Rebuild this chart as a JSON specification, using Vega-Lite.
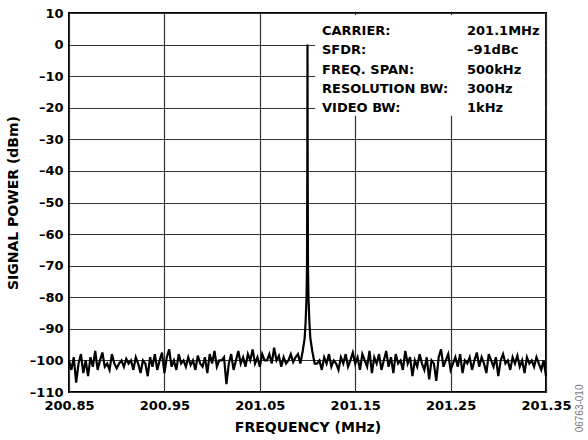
{
  "$schema": "https://vega.github.io/schema/vega-lite/v6.json",
  "autosize": {"type": "none"},
  "width": 477,
  "height": 379,
  "padding": {"left": 69, "top": 13, "right": 42, "bottom": 48},
  "background": "white",
  "config": {
    "view": {"stroke": "#000", "strokeWidth": 2},
    "font": "DejaVu Sans",
    "axis": {
      "labelFont": "DejaVu Sans", "labelFontWeight": "bold", "labelFontSize": 13, "labelColor": "#000",
      "titleFont": "DejaVu Sans", "titleFontWeight": "bold", "titleFontSize": 14, "titleColor": "#000",
      "domain": false, "ticks": false, "grid": true, "gridColor": "#333", "gridWidth": 1.2, "gridOpacity": 1,
      "labelOverlap": false
    }
  },
  "datasets": {
    "trace": [
      {"f": 200.85, "p": -100}, {"f": 200.8525, "p": -103}, {"f": 200.855, "p": -99}, {"f": 200.8575, "p": -107},
      {"f": 200.86, "p": -101}, {"f": 200.8625, "p": -98}, {"f": 200.865, "p": -104}, {"f": 200.8675, "p": -100},
      {"f": 200.87, "p": -105}, {"f": 200.8725, "p": -99}, {"f": 200.875, "p": -102}, {"f": 200.8775, "p": -97},
      {"f": 200.88, "p": -103}, {"f": 200.8825, "p": -100}, {"f": 200.885, "p": -97.5}, {"f": 200.8875, "p": -102},
      {"f": 200.89, "p": -101}, {"f": 200.8925, "p": -103}, {"f": 200.895, "p": -98}, {"f": 200.8975, "p": -101},
      {"f": 200.9, "p": -102.5}, {"f": 200.9025, "p": -101}, {"f": 200.905, "p": -100}, {"f": 200.9075, "p": -102},
      {"f": 200.91, "p": -99.5}, {"f": 200.9125, "p": -101}, {"f": 200.915, "p": -100}, {"f": 200.9175, "p": -103},
      {"f": 200.92, "p": -99}, {"f": 200.9225, "p": -101}, {"f": 200.925, "p": -104}, {"f": 200.9275, "p": -100},
      {"f": 200.93, "p": -101}, {"f": 200.9325, "p": -105}, {"f": 200.935, "p": -99}, {"f": 200.9375, "p": -102},
      {"f": 200.94, "p": -98}, {"f": 200.9425, "p": -103}, {"f": 200.945, "p": -100}, {"f": 200.9475, "p": -97.5},
      {"f": 200.95, "p": -104}, {"f": 200.9525, "p": -99}, {"f": 200.955, "p": -96.5}, {"f": 200.9575, "p": -102},
      {"f": 200.96, "p": -100}, {"f": 200.9625, "p": -103}, {"f": 200.965, "p": -98}, {"f": 200.9675, "p": -101},
      {"f": 200.97, "p": -100}, {"f": 200.9725, "p": -102}, {"f": 200.975, "p": -99}, {"f": 200.9775, "p": -101.5},
      {"f": 200.98, "p": -100}, {"f": 200.9825, "p": -103}, {"f": 200.985, "p": -98.5}, {"f": 200.9875, "p": -101},
      {"f": 200.99, "p": -102}, {"f": 200.9925, "p": -99}, {"f": 200.995, "p": -104}, {"f": 200.9975, "p": -98},
      {"f": 201.0, "p": -101}, {"f": 201.0025, "p": -97}, {"f": 201.005, "p": -102}, {"f": 201.0075, "p": -100},
      {"f": 201.01, "p": -100}, {"f": 201.0125, "p": -99}, {"f": 201.015, "p": -107.5}, {"f": 201.0175, "p": -101},
      {"f": 201.02, "p": -98}, {"f": 201.0225, "p": -103}, {"f": 201.025, "p": -100}, {"f": 201.0275, "p": -97},
      {"f": 201.03, "p": -101}, {"f": 201.0325, "p": -99}, {"f": 201.035, "p": -102}, {"f": 201.0375, "p": -98},
      {"f": 201.04, "p": -100}, {"f": 201.0425, "p": -96.5}, {"f": 201.045, "p": -101}, {"f": 201.0475, "p": -99},
      {"f": 201.05, "p": -102}, {"f": 201.0525, "p": -98}, {"f": 201.055, "p": -100}, {"f": 201.0575, "p": -100},
      {"f": 201.06, "p": -98}, {"f": 201.0625, "p": -101}, {"f": 201.065, "p": -96}, {"f": 201.0675, "p": -100},
      {"f": 201.07, "p": -98.5}, {"f": 201.0725, "p": -102}, {"f": 201.075, "p": -99}, {"f": 201.0775, "p": -101},
      {"f": 201.08, "p": -100}, {"f": 201.0825, "p": -98}, {"f": 201.085, "p": -100.5}, {"f": 201.0875, "p": -99},
      {"f": 201.09, "p": -98},
      {"f": 201.0925, "p": -101}, {"f": 201.095, "p": -97}, {"f": 201.097, "p": -93}, {"f": 201.098, "p": -88},
      {"f": 201.099, "p": -80}, {"f": 201.0995, "p": -70}, {"f": 201.0998, "p": -40}, {"f": 201.1, "p": 0},
      {"f": 201.1002, "p": -40}, {"f": 201.1005, "p": -70}, {"f": 201.101, "p": -80}, {"f": 201.102, "p": -88},
      {"f": 201.103, "p": -93}, {"f": 201.105, "p": -97}, {"f": 201.1075, "p": -101},
      {"f": 201.11, "p": -101}, {"f": 201.1125, "p": -100}, {"f": 201.115, "p": -103}, {"f": 201.1175, "p": -99},
      {"f": 201.12, "p": -101}, {"f": 201.1225, "p": -98}, {"f": 201.125, "p": -102}, {"f": 201.1275, "p": -100},
      {"f": 201.13, "p": -101}, {"f": 201.1325, "p": -103}, {"f": 201.135, "p": -99}, {"f": 201.1375, "p": -101},
      {"f": 201.14, "p": -98}, {"f": 201.1425, "p": -102}, {"f": 201.145, "p": -100}, {"f": 201.1475, "p": -97.5},
      {"f": 201.15, "p": -101}, {"f": 201.1525, "p": -99}, {"f": 201.155, "p": -103}, {"f": 201.1575, "p": -98},
      {"f": 201.16, "p": -100}, {"f": 201.1625, "p": -102}, {"f": 201.165, "p": -97}, {"f": 201.1675, "p": -104},
      {"f": 201.17, "p": -99}, {"f": 201.1725, "p": -101}, {"f": 201.175, "p": -98}, {"f": 201.1775, "p": -103},
      {"f": 201.18, "p": -100}, {"f": 201.1825, "p": -97}, {"f": 201.185, "p": -102}, {"f": 201.1875, "p": -99},
      {"f": 201.19, "p": -104}, {"f": 201.1925, "p": -98}, {"f": 201.195, "p": -101}, {"f": 201.1975, "p": -100},
      {"f": 201.2, "p": -103}, {"f": 201.2025, "p": -97}, {"f": 201.205, "p": -101}, {"f": 201.2075, "p": -99},
      {"f": 201.21, "p": -105}, {"f": 201.2125, "p": -100}, {"f": 201.215, "p": -102}, {"f": 201.2175, "p": -98},
      {"f": 201.22, "p": -101}, {"f": 201.2225, "p": -103}, {"f": 201.225, "p": -99}, {"f": 201.2275, "p": -106},
      {"f": 201.23, "p": -100}, {"f": 201.2325, "p": -101}, {"f": 201.235, "p": -106.5}, {"f": 201.2375, "p": -99},
      {"f": 201.24, "p": -96.5}, {"f": 201.2425, "p": -102}, {"f": 201.245, "p": -100}, {"f": 201.2475, "p": -98},
      {"f": 201.25, "p": -103}, {"f": 201.2525, "p": -101}, {"f": 201.255, "p": -99}, {"f": 201.2575, "p": -102},
      {"f": 201.26, "p": -98}, {"f": 201.2625, "p": -104}, {"f": 201.265, "p": -100}, {"f": 201.2675, "p": -101},
      {"f": 201.27, "p": -99}, {"f": 201.2725, "p": -103}, {"f": 201.275, "p": -100}, {"f": 201.2775, "p": -97.5},
      {"f": 201.28, "p": -102}, {"f": 201.2825, "p": -99}, {"f": 201.285, "p": -101}, {"f": 201.2875, "p": -104},
      {"f": 201.29, "p": -98}, {"f": 201.2925, "p": -100}, {"f": 201.295, "p": -102}, {"f": 201.2975, "p": -99},
      {"f": 201.3, "p": -105}, {"f": 201.3025, "p": -100}, {"f": 201.305, "p": -98}, {"f": 201.3075, "p": -101},
      {"f": 201.31, "p": -100}, {"f": 201.3125, "p": -103}, {"f": 201.315, "p": -99}, {"f": 201.3175, "p": -101},
      {"f": 201.32, "p": -98.5}, {"f": 201.3225, "p": -102}, {"f": 201.325, "p": -100}, {"f": 201.3275, "p": -104},
      {"f": 201.33, "p": -99}, {"f": 201.3325, "p": -101}, {"f": 201.335, "p": -100}, {"f": 201.3375, "p": -102},
      {"f": 201.34, "p": -99}, {"f": 201.3425, "p": -101}, {"f": 201.345, "p": -103}, {"f": 201.3475, "p": -100},
      {"f": 201.35, "p": -105}
    ]
  },
  "layer": [
    {
      "data": {"name": "trace"},
      "mark": {"type": "line", "color": "#000", "strokeWidth": 2.2, "strokeJoin": "miter"},
      "encoding": {
        "x": {
          "field": "f", "type": "quantitative",
          "scale": {"domain": [200.85, 201.35], "nice": false, "zero": false},
          "axis": {
            "values": [200.85, 200.95, 201.05, 201.15, 201.25, 201.35], "tickCount": 20,
            "format": ".2f", "labelPadding": 7, "title": "FREQUENCY (MHz)", "titlePadding": 8,
            "labelFlush": false
          }
        },
        "y": {
          "field": "p", "type": "quantitative",
          "scale": {"domain": [-110, 10], "nice": false, "zero": false},
          "axis": {
            "values": [-110, -100, -90, -80, -70, -60, -50, -40, -30, -20, -10, 0, 10], "tickCount": 30,
            "labelExpr": "datum.value < 0 ? '–' + abs(datum.value) : '' + datum.value",
            "labelPadding": 6, "title": "SIGNAL POWER (dBm)", "titlePadding": 9
          }
        }
      }
    },
    {
      "data": {"values": [{"x1": 201.108, "x2": 201.349, "y1": 9.4, "y2": -22.5}]},
      "mark": {"type": "rect", "color": "white", "opacity": 1},
      "encoding": {
        "x": {"field": "x1", "type": "quantitative"},
        "x2": {"field": "x2"},
        "y": {"field": "y1", "type": "quantitative"},
        "y2": {"field": "y2"}
      }
    },
    {
      "data": {"values": [{}]},
      "mark": {
        "type": "text", "align": "left", "baseline": "alphabetic", "font": "DejaVu Sans",
        "fontWeight": "bold", "fontSize": 13, "color": "#000", "lineHeight": 19.2,
        "text": ["CARRIER:", "SFDR:", "FREQ. SPAN:", "RESOLUTION BW:", "VIDEO BW:"]
      },
      "encoding": {
        "x": {"datum": 201.1152},
        "y": {"datum": 2.94}
      }
    },
    {
      "data": {"values": [{}]},
      "mark": {
        "type": "text", "align": "left", "baseline": "alphabetic", "font": "DejaVu Sans",
        "fontWeight": "bold", "fontSize": 13, "color": "#000", "lineHeight": 19.2,
        "text": ["201.1MHz", "–91dBc", "500kHz", "300Hz", "1kHz"]
      },
      "encoding": {
        "x": {"datum": 201.2672},
        "y": {"datum": 2.94}
      }
    },
    {
      "data": {"values": [{}]},
      "mark": {
        "type": "text", "align": "center", "baseline": "middle", "angle": 270,
        "font": "Liberation Sans", "fontSize": 10, "color": "#777", "text": "06763-010"
      },
      "encoding": {
        "x": {"datum": 201.3856},
        "y": {"datum": -115.2}
      }
    }
  ]
}
